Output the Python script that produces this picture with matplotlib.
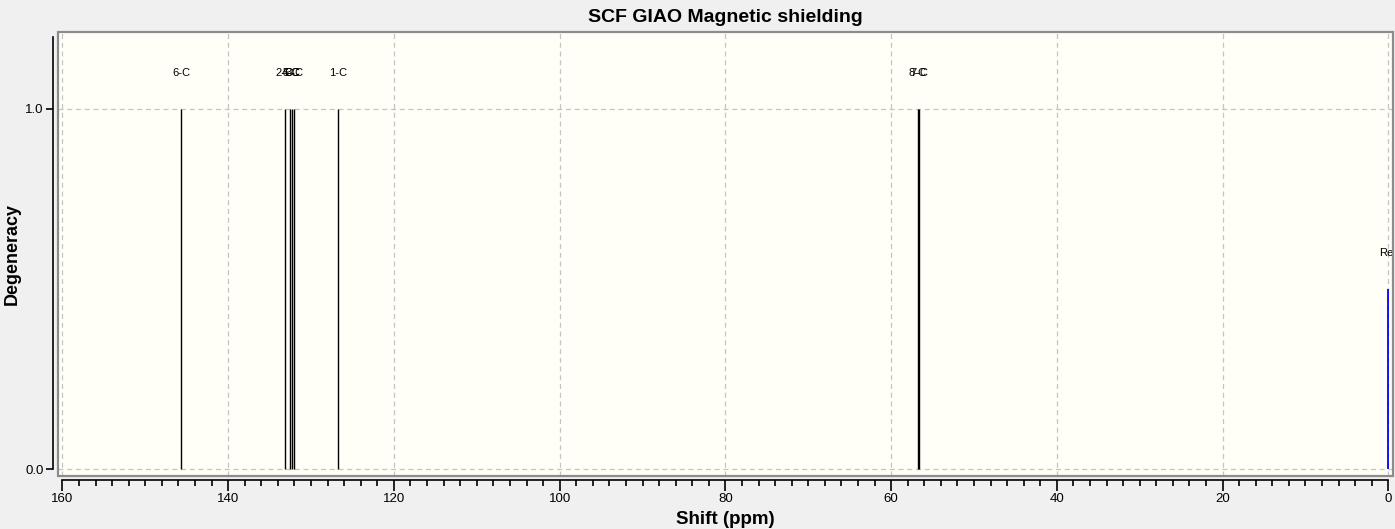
import matplotlib
matplotlib.use("Agg")
import matplotlib.pyplot as plt
from matplotlib.patches import Rectangle
from matplotlib.ticker import MultipleLocator

plt.rcParams['font.family'] = ['Liberation Sans', 'DejaVu Sans']

# ---- data ----
peak_labels = ['6-C', '2-C', '4-C', '5-C', '3-C', '1-C', '8-C', '7-C']
peak_shifts = [145.7, 133.2, 132.5, 132.3, 132.0, 126.7, 56.8, 56.6]
peak_degeneracy = [1, 1, 1, 1, 1, 1, 1, 1]
ref_labels = ['Ref']
ref_shifts = [0.0]
ref_heights = [0.5]
x_major_ticks = [160, 140, 120, 100, 80, 60, 40, 20, 0]
y_major_ticks = [0.0, 1.0]

W, H = 1395, 529
fig = plt.figure(figsize=(W / 100, H / 100), dpi=100)
fig.patch.set_facecolor('#F0F0F0')

L, R, T, B = 57.5, 1393, 31.5, 476
ax = fig.add_axes([L / W, (H - B) / H, (R - L) / W, (B - T) / H])
ax.set_facecolor('#FFFFF7')
ax.set_xlim(160.6, -0.57)
ax.set_ylim(-0.019, 1.215)

# grid
for xv in x_major_ticks:
    ax.axvline(xv, color='#C4C4C4', lw=0.9, ls=(0, (4, 3)), zorder=0)
for yv in y_major_ticks:
    ax.axhline(yv, color='#C4C4C4', lw=0.9, ls=(0, (4, 3)), zorder=0)

# peaks
ax.vlines(peak_shifts, 0, peak_degeneracy, color='black', lw=1.0, zorder=3)
for s, d, lab in zip(peak_shifts, peak_degeneracy, peak_labels):
    ax.text(s, d + 0.1, lab, ha='center', va='center', fontsize=8,
            color='black', zorder=4, clip_on=True)

ax.vlines(ref_shifts, 0, ref_heights, color='#0000FF', lw=1.3, zorder=3)
for s, h, lab in zip(ref_shifts, ref_heights, ref_labels):
    ax.text(s, h + 0.1, lab, ha='center', va='center', fontsize=8,
            color='black', zorder=4, clip_on=True)

# box
ax.add_patch(Rectangle((0, 0), 1, 1, transform=ax.transAxes, fill=False,
                       edgecolor='#8C8C8C', lw=1.6, clip_on=False, zorder=5))

for sp in ['top', 'right']:
    ax.spines[sp].set_visible(False)
ax.spines['bottom'].set_position(('outward', 3))
ax.spines['left'].set_position(('outward', 3))
ax.spines['bottom'].set_bounds(0, 160)
ax.spines['left'].set_bounds(0, 1.2)
for sp in ['bottom', 'left']:
    ax.spines[sp].set_color('black')
    ax.spines[sp].set_linewidth(1.2)

ax.set_xticks(x_major_ticks)
ax.set_xticklabels([str(v) for v in x_major_ticks])
ax.xaxis.set_minor_locator(MultipleLocator(2))
ax.set_yticks(y_major_ticks)
ax.set_yticklabels(['0.0', '1.0'])
ax.tick_params(axis='x', which='major', length=8, width=1.2, labelsize=9.5,
               pad=1.5, colors='black')
ax.tick_params(axis='x', which='minor', length=4, width=1.2)
ax.tick_params(axis='y', which='major', length=5, width=1.2, labelsize=9.5,
               pad=2, colors='black')

ax.set_xlabel('Shift (ppm)', fontsize=13.5, fontweight='bold')
ax.xaxis.set_label_coords(0.5, (B - 519) / (B - T))
ax.xaxis.label.set_va('center')
ax.set_ylabel('Degeneracy', fontsize=13, fontweight='bold')
ax.yaxis.set_label_coords((12 - L) / (R - L), 0.5)
ax.yaxis.label.set_va('center')
ax.set_title('SCF GIAO Magnetic shielding', fontsize=14, fontweight='bold',
             pad=7)

fig.savefig('out.png', dpi=100, facecolor=fig.get_facecolor())
